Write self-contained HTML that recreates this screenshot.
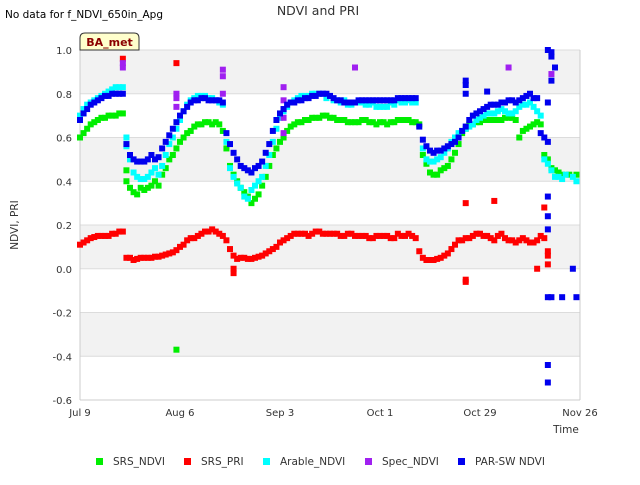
<!DOCTYPE html>
<html><head><meta charset="utf-8"><style>
body{margin:0;background:#fff;font-family:"Liberation Sans",sans-serif;}
svg text{font-family:"DejaVu Sans","Liberation Sans",sans-serif;}
</style></head><body>
<svg id="chart" width="640" height="480" xmlns="http://www.w3.org/2000/svg">
<rect width="640" height="480" fill="#fff"/>
<g id="bands"></g>
<g id="grid"></g>
<text x="318" y="15" font-size="12.5" fill="#333" text-anchor="middle">NDVI and PRI</text>
<text x="5" y="18" font-size="10.5" fill="#000">No data for f_NDVI_650in_Apg</text>
<text transform="translate(18,225) rotate(-90)" font-size="10.5" fill="#333" text-anchor="middle">NDVI, PRI</text>
<text x="566" y="433" font-size="10.5" fill="#333" text-anchor="middle">Time</text>
<g id="ticks"></g>
<g id="marks"></g>
<g>
<path d="M80,50 L80,38 Q80,33 85,33 L134,33 Q139,33 139,38 L139,50 Z" fill="#ffffcc" stroke="#333" stroke-width="1"/>
<text x="109.5" y="46" font-size="11" font-weight="bold" fill="#8b0000" text-anchor="middle">BA_met</text>
</g>
<g id="legend"></g>
</svg>
<script>
const greenDays=[0,1,2,3,4,5,6,7,8,9,10,11,12,13,13,14,15,16,17,18,19,20,21,22,23,24,25,26,27,28,29,30,31,32,33,34,35,36,37,38,39,40,41,42,43,44,45,46,47,48,49,50,51,52,53,54,55,56,57,58,59,60,61,62,64,66,68,70,72,74,76,78,80,82,84,86,88,90,92,94,95,96,97,98,99,100,101,102,103,104,105,106,107,108,109,110,112,114,116,118,120,122,123,124,125,126,127,128,129,130,131,132,133,134,135,137,139,27,63,65,67,69,71,73,75,77,79,81,83,85,87,89,91,93,111,113,115,117,119,121];
const greenVals=[0.60,0.62,0.64,0.66,0.67,0.68,0.69,0.69,0.70,0.70,0.70,0.71,0.71,0.45,0.40,0.37,0.35,0.34,0.37,0.36,0.37,0.38,0.40,0.38,0.43,0.46,0.50,0.52,0.55,0.58,0.60,0.62,0.63,0.65,0.66,0.66,0.67,0.67,0.66,0.67,0.66,0.63,0.55,0.47,0.43,0.40,0.37,0.35,0.33,0.30,0.32,0.34,0.38,0.42,0.47,0.52,0.55,0.58,0.60,0.63,0.65,0.66,0.67,0.67,0.68,0.69,0.70,0.69,0.68,0.68,0.67,0.67,0.68,0.67,0.67,0.66,0.67,0.68,0.68,0.67,0.66,0.52,0.48,0.44,0.43,0.43,0.45,0.46,0.47,0.50,0.53,0.57,0.62,0.64,0.66,0.66,0.67,0.68,0.68,0.68,0.69,0.68,0.60,0.63,0.64,0.65,0.66,0.67,0.66,0.52,0.50,0.46,0.45,0.44,0.43,0.43,0.43,-0.37,0.68,0.69,0.69,0.70,0.69,0.68,0.67,0.67,0.68,0.67,0.66,0.67,0.67,0.68,0.68,0.67,0.67,0.68,0.68,0.68,0.69,0.69];
const redDays=[0,1,2,3,4,5,6,7,8,9,10,11,12,13,14,15,16,17,18,19,20,21,22,23,24,25,26,27,28,29,30,31,32,33,34,35,36,37,38,39,40,41,42,43,44,45,46,47,48,49,50,51,52,53,54,55,56,57,58,59,60,62,64,66,68,70,72,74,76,78,80,82,84,86,88,90,92,94,95,96,97,98,99,100,101,102,103,104,105,106,107,108,110,112,114,116,118,120,122,124,126,128,129,130,12,27,43,43,108,108,108,116,130,131,131,131,128,61,63,65,67,69,71,73,75,77,79,81,83,85,87,89,91,93,109,111,113,115,117,119,121,123,125,127];
const redVals=[0.11,0.12,0.13,0.14,0.145,0.15,0.15,0.15,0.15,0.16,0.16,0.17,0.17,0.05,0.05,0.04,0.045,0.05,0.05,0.05,0.05,0.055,0.055,0.06,0.065,0.07,0.075,0.085,0.10,0.11,0.13,0.14,0.14,0.15,0.16,0.17,0.17,0.18,0.17,0.16,0.15,0.13,0.09,0.06,0.045,0.05,0.05,0.045,0.045,0.05,0.055,0.06,0.07,0.08,0.09,0.10,0.12,0.13,0.14,0.15,0.16,0.16,0.15,0.17,0.16,0.16,0.16,0.15,0.16,0.15,0.15,0.14,0.15,0.15,0.14,0.15,0.16,0.14,0.08,0.05,0.04,0.04,0.04,0.045,0.05,0.06,0.07,0.09,0.11,0.13,0.13,0.14,0.15,0.16,0.15,0.13,0.16,0.13,0.12,0.14,0.12,0.13,0.15,0.14,0.96,0.94,0.0,-0.02,0.30,-0.05,-0.06,0.31,0.28,0.08,0.06,0.02,0.0,0.16,0.16,0.16,0.17,0.16,0.16,0.15,0.16,0.15,0.15,0.14,0.15,0.15,0.14,0.16,0.15,0.15,0.14,0.16,0.15,0.14,0.15,0.14,0.13,0.13,0.13,0.12];
const cyanDays=[0,1,2,3,4,5,6,7,8,9,10,11,12,13,13,14,15,16,17,18,19,20,21,22,23,24,25,26,27,28,29,30,31,32,33,34,35,36,37,38,39,40,41,42,43,44,45,46,47,48,49,50,51,52,53,54,55,56,57,58,59,60,62,64,66,68,70,72,74,76,78,80,82,84,86,88,90,92,94,96,97,98,99,100,101,102,103,104,105,106,107,108,110,112,114,116,118,120,122,124,126,127,128,129,130,131,132,133,134,135,136,138,139,61,63,65,67,69,71,73,75,77,79,81,83,85,87,89,91,93,109,111,113,115,117,119,121,123,125];
const cyanVals=[0.70,0.73,0.75,0.76,0.77,0.78,0.79,0.80,0.81,0.82,0.83,0.83,0.83,0.60,0.56,0.50,0.44,0.42,0.41,0.41,0.42,0.44,0.46,0.43,0.47,0.52,0.57,0.60,0.64,0.68,0.72,0.75,0.77,0.78,0.79,0.79,0.79,0.78,0.78,0.77,0.76,0.75,0.58,0.46,0.42,0.39,0.37,0.33,0.32,0.36,0.38,0.40,0.42,0.47,0.52,0.58,0.64,0.69,0.72,0.74,0.76,0.77,0.79,0.79,0.80,0.80,0.79,0.77,0.77,0.75,0.76,0.75,0.76,0.74,0.74,0.75,0.76,0.77,0.76,0.55,0.50,0.49,0.49,0.50,0.51,0.53,0.55,0.58,0.60,0.62,0.63,0.64,0.66,0.69,0.71,0.71,0.73,0.71,0.72,0.75,0.76,0.74,0.72,0.70,0.50,0.48,0.45,0.42,0.42,0.41,0.43,0.42,0.40,0.78,0.79,0.80,0.80,0.78,0.77,0.76,0.75,0.76,0.76,0.75,0.74,0.74,0.76,0.77,0.76,0.76,0.65,0.68,0.70,0.71,0.72,0.72,0.71,0.74,0.75];
const purpleDays=[12,12,27,27,27,40,40,40,57,57,57,57,57,77,120,132];
const purpleVals=[0.92,0.94,0.74,0.78,0.80,0.88,0.91,0.80,0.62,0.69,0.73,0.77,0.83,0.92,0.92,0.89];
const blueDays=[0,1,2,3,4,5,6,7,8,9,10,11,12,13,14,15,16,17,18,19,20,21,22,23,24,25,26,27,28,29,30,31,32,33,34,35,36,37,38,39,40,41,42,43,44,45,46,47,48,49,50,51,52,53,54,55,56,57,58,60,62,64,66,68,70,72,74,76,78,80,82,84,86,88,90,92,94,95,96,97,98,99,100,101,102,103,104,105,106,107,108,109,110,112,114,116,118,120,122,124,125,126,127,128,129,130,131,108,108,108,114,131,132,132,133,132,131,131,131,131,131,132,135,131,131,138,139,59,61,63,65,67,69,71,73,75,77,79,81,83,85,87,89,91,93,111,113,115,117,119,121,123];
const blueVals=[0.68,0.71,0.73,0.75,0.76,0.77,0.78,0.79,0.79,0.80,0.80,0.80,0.80,0.57,0.52,0.50,0.49,0.49,0.49,0.50,0.52,0.50,0.51,0.55,0.58,0.61,0.64,0.67,0.70,0.72,0.74,0.76,0.77,0.77,0.78,0.78,0.77,0.77,0.77,0.77,0.76,0.62,0.57,0.53,0.50,0.47,0.46,0.45,0.44,0.46,0.47,0.49,0.53,0.57,0.63,0.68,0.71,0.73,0.75,0.76,0.77,0.78,0.79,0.80,0.79,0.77,0.76,0.76,0.77,0.77,0.77,0.77,0.77,0.77,0.78,0.78,0.78,0.65,0.59,0.56,0.54,0.53,0.54,0.54,0.55,0.56,0.57,0.58,0.60,0.63,0.65,0.68,0.70,0.72,0.74,0.75,0.76,0.77,0.76,0.78,0.79,0.80,0.78,0.78,0.62,0.60,0.58,0.86,0.84,0.80,0.81,1.0,0.99,0.97,0.92,0.86,0.76,0.33,0.24,0.18,-0.13,-0.13,-0.13,-0.44,-0.52,0.0,-0.13,0.76,0.77,0.78,0.79,0.80,0.80,0.78,0.77,0.76,0.76,0.77,0.77,0.77,0.77,0.77,0.78,0.78,0.78,0.71,0.73,0.75,0.75,0.76,0.77,0.77];
const yTicks=[-0.6,-0.4,-0.2,0.0,0.2,0.4,0.6,0.8,1.0];
const yTickLabels=["-0.6","-0.4","-0.2","0.0","0.2","0.4","0.6","0.8","1.0"];
const xTickDays=[0,28,56,84,112,140];
const xTickLabels=["Jul 9","Aug 6","Sep 3","Oct 1","Oct 29","Nov 26"];

const X0=80,X1=580,Y0=50,Y1=400,DAYS=140,YMIN=-0.6,YMAX=1.0;
const NS='http://www.w3.org/2000/svg';
function xs(d){return X0+(X1-X0)*d/DAYS;}
function ys(v){return Y1-(Y1-Y0)*(v-YMIN)/(YMAX-YMIN);}
function mk(tag,attrs,parent){const e=document.createElementNS(NS,tag);for(const k in attrs)e.setAttribute(k,attrs[k]);parent.appendChild(e);return e;}
const bands=document.getElementById('bands'),grid=document.getElementById('grid'),ticks=document.getElementById('ticks'),marks=document.getElementById('marks'),legend=document.getElementById('legend');
const bg=mk('rect',{x:X0,y:Y0,width:X1-X0,height:Y1-Y0,fill:'#fff'},bands);


for(let i=0;i<yTicks.length-1;i++){
  if(i%2===1){
    const b=mk('rect',{x:X0,y:ys(yTicks[i+1]),width:X1-X0,height:ys(yTicks[i])-ys(yTicks[i+1]),fill:'#f2f2f2'},bands);
    
    
  }
}
yTicks.forEach((v,i)=>{
  const l=mk('line',{x1:X0,x2:X1,y1:ys(v),y2:ys(v),stroke:'#dcdcdc','stroke-width':1},grid);
  
  
  const t=mk('text',{x:X0-8,y:ys(v)+4,'font-size':10,fill:'#333','text-anchor':'end'},ticks);
  t.textContent=yTickLabels[i];
  
  
});
const ax=mk('line',{x1:X0,x2:X0,y1:Y0,y2:Y1,stroke:'#ccc'},grid);


const ax2=mk('line',{x1:X1,x2:X1,y1:Y0,y2:Y1,stroke:'#ccc'},grid);


const ax3=mk('line',{x1:X0,x2:X1,y1:Y1,y2:Y1,stroke:'#ccc'},grid);


xTickDays.forEach((d,i)=>{
  const t=mk('text',{x:xs(d),y:416,'font-size':10,fill:'#333','text-anchor':'middle'},ticks);
  t.textContent=xTickLabels[i];
  
  
});
function series(days,vals,color,name){
  const g=mk('g',{},marks);
  
  
  days.forEach((d,i)=>{
    const r=mk('rect',{x:xs(d)-3,y:ys(vals[i])-3,width:6,height:6,fill:color},g);
    
    
  });
}
series(greenDays,greenVals,'#00ee00','srs-ndvi');
series(redDays,redVals,'#ff0000','srs-pri');
series(cyanDays,cyanVals,'#00ffff','arable-ndvi');
series(purpleDays,purpleVals,'#a020f0','spec-ndvi');
series(blueDays,blueVals,'#0000ee','par-sw-ndvi');
const leg=[['SRS_NDVI','#00ee00',99],['SRS_PRI','#ff0000',187],['Arable_NDVI','#00ffff',266],['Spec_NDVI','#a020f0',368],['PAR-SW NDVI','#0000ee',461]];
leg.forEach(e=>{
  const g=mk('g',{},legend);
  
  
  mk('rect',{x:e[2]-3,y:458,width:7,height:7,fill:e[1]},g);
  const t=mk('text',{x:e[2]+14,y:465,'font-size':10.5,fill:'#333'},g);
  t.textContent=e[0];
});
</script>
</body></html>
